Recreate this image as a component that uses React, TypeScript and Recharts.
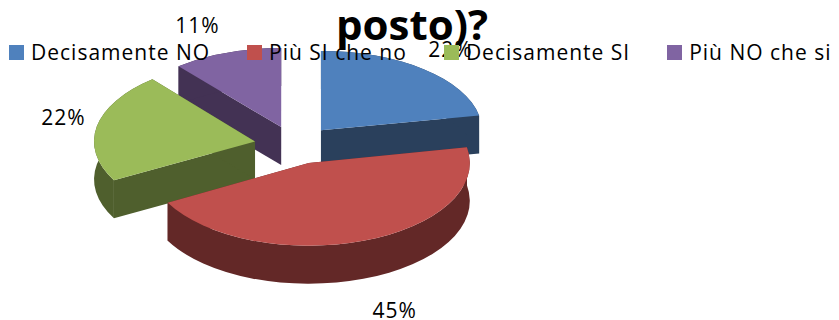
import React from "react";
import { PieChart, Pie, Legend } from "recharts";

const categories = ["Decisamente NO", "Più SI che no", "Decisamente SI", "Più NO che si"];
const values = [22, 45, 22, 11];
const topColors = ["#4F81BD", "#C0504D", "#9BBB59", "#8064A2"];
const wallColors = ["#2A405C", "#632827", "#4F5F2D", "#433254"];
const paintOrder = [3, 0, 2, 1];
const titleText = "posto)?";
const labelNudges = [
  [-4, 0],
  [15, 47],
  [14, -5],
  [-13, -2],
];

const FONT = "'Open Sans', sans-serif";
const CENTER_X = 295;
const CENTER_Y = 145;
const RADIUS_X = 161;
const BASE_RY = 81;
const PERSPECTIVE = 2;
const EXPLODE_X = 40.7;
const EXPLODE_Y = 19;
const DEPTH = 38;

const table = categories.map((name, i) => ({ name, value: values[i], fill: topColors[i] }));
const rad = (d: number) => (d * Math.PI) / 180;

function Slice3D(p: any) {
  const { cx, cy, startAngle, endAngle, outerRadius } = p;
  const idx = categories.indexOf(p.name ?? p.payload?.name);
  const mid = rad((startAngle + endAngle) / 2);
  const rx = outerRadius;
  const ry = BASE_RY - PERSPECTIVE * Math.sin(mid);
  const ax = cx + EXPLODE_X * Math.cos(mid);
  const ay = cy - EXPLODE_Y * Math.sin(mid);
  const px = (a: number) => ax + rx * Math.cos(rad(a));
  const py = (a: number) => ay - ry * Math.sin(rad(a));
  const sx = px(startAngle);
  const sy = py(startAngle);
  const ex = px(endAngle);
  const ey = py(endAngle);
  const large = Math.abs(startAngle - endAngle) > 180 ? 1 : 0;
  const top = `M${ax},${ay}L${sx},${sy}A${rx},${ry} 0 ${large} 1 ${ex},${ey}Z`;
  const band = `M${sx},${sy}A${rx},${ry} 0 ${large} 1 ${ex},${ey}L${ex},${ey + DEPTH}A${rx},${ry} 0 ${large} 0 ${sx},${sy + DEPTH}Z`;
  const wallA = `M${ax},${ay}L${sx},${sy}L${sx},${sy + DEPTH}L${ax},${ay + DEPTH}Z`;
  const wallB = `M${ax},${ay}L${ex},${ey}L${ex},${ey + DEPTH}L${ax},${ay + DEPTH}Z`;
  const dark = wallColors[idx];
  return (
    <g>
      <path d={wallA} fill={dark} />
      <path d={wallB} fill={dark} />
      <path d={band} fill={dark} />
      <path d={top} fill={topColors[idx]} />
    </g>
  );
}

const sliceFor = (layer: number) => (p: any) =>
  (p.name ?? p.payload?.name) === categories[layer] ? <Slice3D {...p} /> : <g />;

function percentLabel(p: any) {
  const idx = categories.indexOf(p.name ?? p.payload?.name);
  const mid = rad(p.midAngle);
  const x = p.cx + 250 * Math.cos(mid) + labelNudges[idx][0];
  const y = p.cy - 125 * Math.sin(mid) + labelNudges[idx][1];
  return (
    <text
      key={idx}
      x={x}
      y={y}
      textAnchor="middle"
      dominantBaseline="central"
      fontFamily={FONT}
      fontSize={21}
      letterSpacing={1}
      fill="#000"
    >
      {`${Math.round(p.percent * 100)}%`}
    </text>
  );
}

function LegendRow({ payload }: any) {
  const seen = new Set<string>();
  const items = (payload ?? [])
    .filter((e: any) => {
      if (seen.has(e.value)) return false;
      seen.add(e.value);
      return true;
    })
    .sort((a: any, b: any) => categories.indexOf(a.value) - categories.indexOf(b.value));
  return (
    <div style={{ display: "flex", gap: 37, paddingLeft: 9, fontFamily: FONT, fontSize: 21, letterSpacing: 1, lineHeight: "28px", color: "#000", whiteSpace: "nowrap" }}>
      {items.map((e: any) => (
        <div key={e.value} style={{ display: "flex", alignItems: "center", gap: 7 }}>
          <span style={{ width: 15, height: 15, background: topColors[categories.indexOf(e.value)], display: "inline-block" }} />
          <span>{e.value}</span>
        </div>
      ))}
    </div>
  );
}

export default function App() {
  return (
    <div style={{ position: "absolute", left: 0, top: 0, width: 839, height: 320, overflow: "hidden" }}>
      <PieChart width={839} height={320} margin={{ top: 0, right: 0, bottom: 0, left: 0 }}>
        {paintOrder.map((layer, n) => {
          const shape = sliceFor(layer);
          return (
            <Pie
              key={layer}
              data={table}
              dataKey="value"
              nameKey="name"
              cx={CENTER_X}
              cy={CENTER_Y}
              innerRadius={0}
              outerRadius={RADIUS_X}
              startAngle={90}
              endAngle={-270}
              stroke="none"
              isAnimationActive={false}
              legendType={n === 0 ? "square" : "none"}
              shape={shape}
              inactiveShape={shape}
              activeShape={shape}
              label={n === paintOrder.length - 1 ? percentLabel : false}
              labelLine={false}
            />
          );
        })}
        <text x={412} y={40} textAnchor="middle" fontFamily={FONT} fontWeight={700} fontSize={42} fill="#000">
          {titleText}
        </text>
        <Legend content={LegendRow} wrapperStyle={{ position: "absolute", left: 0, top: 38, width: 839 }} />
      </PieChart>
    </div>
  );
}
